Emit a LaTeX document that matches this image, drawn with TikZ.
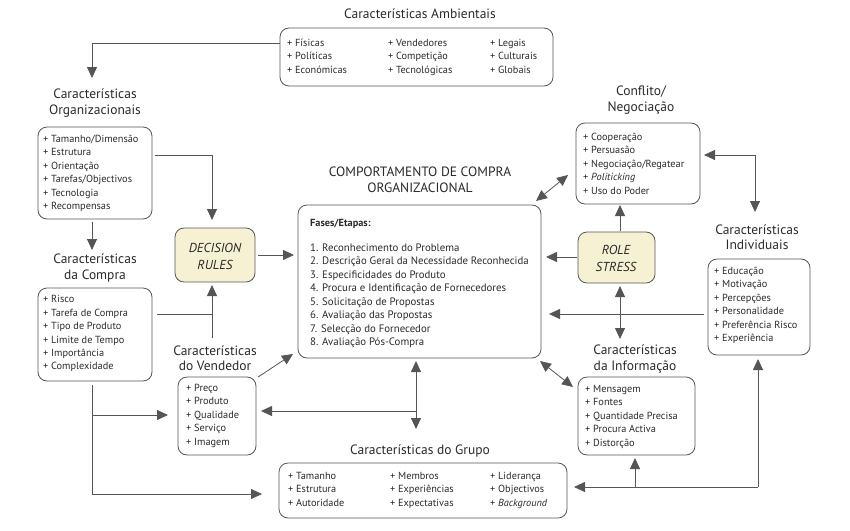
\documentclass[tikz,border=0pt]{standalone}
\usepackage{fontspec}
\setmainfont{PT Sans}
\usetikzlibrary{arrows.meta}
\definecolor{ink}{HTML}{2A2A2A}
\definecolor{ln}{HTML}{555555}
\definecolor{cream}{HTML}{F6F1D3}
\begin{document}
\begin{tikzpicture}[x=1pt,y=-1pt,
  box/.style={draw=ln,line width=0.8pt,rounded corners=9pt},
  ybox/.style={box,fill=cream},
  ttl/.style={font=\fontsize{13.5}{15.5}\selectfont,text=ink,align=center,inner sep=0},
  it/.style={anchor=west,font=\fontsize{10.3}{12}\selectfont,text=ink,inner sep=0,text height=1.6ex,text depth=0.4ex},
  ar/.style={draw=ln,line width=0.8pt,-{Triangle[length=11pt,width=10pt]}},
  dar/.style={draw=ln,line width=0.8pt,{Triangle[length=11pt,width=10pt]}-{Triangle[length=11pt,width=10pt]}},
  ln/.style={draw=ln,line width=0.8pt}]
\useasboundingbox (0,0) rectangle (850,530);
% Ambientais
\node[ttl] (tamb) at (420,14) {Características Ambientais};
\draw[box] (280,28) rectangle (553,86); \coordinate (amb) at (280,43);
\foreach \t [count=\i] in {Físicas,Políticas,Económicas} \node[it] (a1\i) at (287,29.5+13.5*\i) {+ \t};
\foreach \t [count=\i] in {Vendedores,Competição,Tecnológicas} \node[it] (a2\i) at (388,29.5+13.5*\i) {+ \t};
\foreach \t [count=\i] in {Legais,Culturais,Globais} \node[it] (a3\i) at (490,29.5+13.5*\i) {+ \t};
% Organizacionais
\node[ttl] (torg) at (95,103) {Características\\Organizacionais};
\draw[box] (38,127) rectangle (152,219);
\foreach \t [count=\i] in {Tamanho/Dimensão,Estrutura,Orientação,Tarefas/Objectivos,Tecnologia,Recompensas} \node[it] (o\i) at (43,126+13.4*\i) {+ \t};
% Compra
\node[ttl] (tcom) at (95,268) {Características\\da Compra};
\draw[box] (38,288) rectangle (152,381);
\foreach \t [count=\i] in {Risco,Tarefa de Compra,Tipo de Produto,Limite de Tempo,Importância,Complexidade} \node[it] (c\i) at (43,286.5+13.4*\i) {+ \t};
% Decision
\draw[ybox] (175,228) rectangle (255,282);
\node[ttl,font=\fontsize{13}{17}\selectfont\itshape] (dec) at (215,256) {DECISION\\RULES};
% Vendedor
\node[ttl] (tven) at (215,358) {Características\\do Vendedor};
\draw[box] (178,377) rectangle (256,455);
\foreach \t [count=\i] in {Preço,Produto,Qualidade,Serviço,Imagem} \node[it] (v\i) at (186,375+13.4*\i) {+ \t};
% Main
\node[ttl] (tmain) at (420,180) {COMPORTAMENTO DE COMPRA\\ORGANIZACIONAL};
\draw[box] (298,205) rectangle (541,358);
\node[it,font=\fontsize{10.3}{12}\selectfont\bfseries] (fas) at (310,223) {Fases/Etapas:};
\foreach \t [count=\i] in {Reconhecimento do Problema,Descrição Geral da Necessidade Reconhecida,Especificidades do Produto,Procura e Identificação de Fornecedores,Solicitação de Propostas,Avaliação das Propostas,Selecção do Fornecedor,Avaliação Pós-Compra} \node[it,font=\fontsize{10.8}{12}\selectfont] (m\i) at (310,234.5+13.5*\i) {\i. \t};
% Grupo
\node[ttl] (tgru) at (420,451) {Características do Grupo};
\draw[box] (279,463) rectangle (567,518);
\foreach \t [count=\i] in {Tamanho,Estrutura,Autoridade} \node[it] (g1\i) at (288,462.5+13.5*\i) {+ \t};
\foreach \t [count=\i] in {Membros,Experiências,Expectativas} \node[it] (g2\i) at (390,462.5+13.5*\i) {+ \t};
\foreach \t [count=\i] in {Liderança,Objectivos,\textit{Background}} \node[it] (g3\i) at (490,462.5+13.5*\i) {+ \t};
% Conflito
\node[ttl] (tcon) at (641,100) {Conflito/\\Negociação};
\draw[box] (576,123) rectangle (700,204);
\foreach \t [count=\i] in {Cooperação,Persuasão,Negociação/Regatear,\textit{Politicking},Uso do Poder} \node[it] (k\i) at (583,124+13.4*\i) {+ \t};
% Role stress
\draw[ybox] (578,232) rectangle (655,283);
\node[ttl,font=\fontsize{13}{17}\selectfont\itshape] (rs) at (616,258) {ROLE\\STRESS};
% Informacao
\node[ttl] (tinf) at (635,359) {Características\\da Informação};
\draw[box] (578,377) rectangle (695,455);
\foreach \t [count=\i] in {Mensagem,Fontes,Quantidade Precisa,Procura Activa,Distorção} \node[it] (f\i) at (585,376+13.4*\i) {+ \t};
% Individuais
\node[ttl] (tind) at (757,237) {Características\\Individuais};
\draw[box] (708,259) rectangle (810,355);
\foreach \t [count=\i] in {Educação,Motivação,Percepções,Personalidade,Preferência Risco,Experiência} \node[it] (n\i) at (714,258+13.4*\i) {+ \t};
% connectors
\coordinate (p1) at (92,43); \coordinate (p2) at (92,78);
\draw[ar] (amb) -- (p1) -- (p2);
\coordinate (q1) at (92,222); \coordinate (q2) at (92,250);
\draw[ar] (q1) -- (q2);
\coordinate (r0) at (155,155); \coordinate (r1) at (212,155); \coordinate (r2) at (212,220);
\draw[ar] (r0) -- (r1) -- (r2);
\coordinate (s0) at (258,255); \coordinate (s1) at (294,255);
\draw[ar] (s0) -- (s1);
\coordinate (t0) at (157,314); \coordinate (t1) at (212,314); \coordinate (t2) at (212,338); \coordinate (t3) at (212,285);
\draw[ln] (t0) -- (t1); \draw[ar] (t2) -- (t3);
\coordinate (u0) at (92,385); \coordinate (u1) at (92,415); \coordinate (u2) at (168,415); \coordinate (u3) at (92,494); \coordinate (u4) at (262,494);
\draw[ar] (u0) -- (u1) -- (u2); \draw[ar] (u1) -- (u3) -- (u4);
\coordinate (w0) at (258,377); \coordinate (w1) at (293,354);
\draw[ar] (w0) -- (w1);
\coordinate (x0) at (416,361); \coordinate (x1) at (416,429); \coordinate (x2) at (416,411); \coordinate (x3) at (261,411);
\draw[dar] (x0) -- (x1); \draw[ar] (x2) -- (x3);
\coordinate (y0) at (536,201); \coordinate (y1) at (568,175);
\draw[dar] (y0) -- (y1);
\coordinate (z0) at (704,155); \coordinate (z1) at (755,155); \coordinate (z2) at (755,212);
\draw[dar] (z0) -- (z1) -- (z2);
\coordinate (rs1) at (620,231); \coordinate (rs2) at (620,205);
\draw[ar] (rs1) -- (rs2);
\coordinate (rs3) at (577,257); \coordinate (rs4) at (546,257);
\draw[ar] (rs3) -- (rs4);
\coordinate (rs5) at (620,286); \coordinate (rs6) at (620,339);
\draw[dar] (rs5) -- (rs6);
\coordinate (i0) at (540,361); \coordinate (i1) at (573,387);
\draw[dar] (i0) -- (i1);
\coordinate (n0) at (704,314); \coordinate (n1) at (549,314);
\draw[ar] (n0) -- (n1);
\coordinate (b0) at (758,487); \coordinate (b1) at (758,359); \coordinate (b2) at (574,487); \coordinate (b3) at (635,487); \coordinate (b4) at (635,458);
\draw[ar] (b0) -- (b1); \draw[ar] (b0) -- (b2); \draw[ar] (b3) -- (b4);
\end{tikzpicture}
\end{document}
